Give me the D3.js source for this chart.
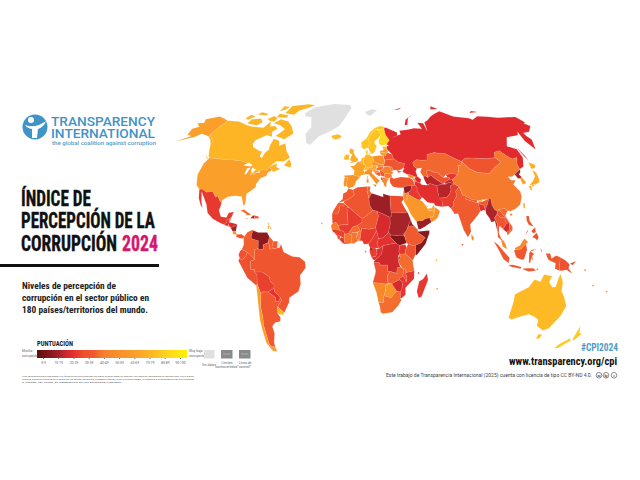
<!DOCTYPE html>
<html>
<head>
<meta charset="utf-8">
<script src="https://cdnjs.cloudflare.com/ajax/libs/d3/7.8.5/d3.min.js"></script>
<style>
body { margin: 0; background: #fff; }
text { font-family: Roboto, "Open Sans", sans-serif; }
text.narrow { font-family: "Liberation Sans Narrow", "Roboto Condensed", Roboto, sans-serif; }
</style>
</head>
<body>
<div id="chart"></div>
<script>
// CPI scores
var countryNames = ["Canada","United States","Mexico","Guatemala","Belize","Honduras","El Salvador","Nicaragua","Costa Rica","Panama","Cuba","Haiti","Dominican Rep","Jamaica","Trinidad",
  "Colombia","Venezuela","Guyana","Suriname","Ecuador","Peru","Brazil","Bolivia","Paraguay","Chile","Argentina","Uruguay",
  "Iceland","Ireland","UK","Norway","Sweden","Finland","Denmark","Portugal","Spain","France","Belgium","Netherlands","Germany","Switzerland","Austria","Italy","Poland","Czechia","Slovakia","Hungary","Slovenia","Croatia","Bosnia","Serbia","Albania","N Macedonia","Greece","Bulgaria","Romania","Moldova","Ukraine","Belarus","Estonia","Latvia","Lithuania","Russia",
  "Turkey","Georgia","Armenia","Azerbaijan","Syria","Lebanon","Israel","Jordan","Iraq","Saudi Arabia","Yemen","Oman","UAE","Qatar","Iran","Afghanistan","Pakistan","Turkmenistan","Uzbekistan","Kazakhstan","Kyrgyzstan","Tajikistan","Mongolia","China","Taiwan","India","Nepal","Bhutan","Bangladesh","Sri Lanka","Myanmar","Thailand","Laos","Vietnam","Cambodia","Malaysia","Indonesia","PNG","Philippines","Japan","South Korea","North Korea",
  "Morocco","Algeria","Tunisia","Libya","Egypt","Mauritania","Mali","Senegal","Guinea-Bissau","Guinea","Sierra Leone","Liberia","Ivory Coast","Burkina Faso","Ghana","Togo","Benin","Nigeria","Niger","Chad","Sudan","South Sudan","Eritrea","Ethiopia","Djibouti","Somalia","Kenya","Uganda","Rwanda","Burundi","Tanzania","DR Congo","Congo","Gabon","Eq Guinea","Cameroon","CAR","Angola","Namibia","Botswana","Zambia","Zimbabwe","Malawi","Mozambique","South Africa","Madagascar",
  "Australia","New Zealand"];
var countryScores = [75,65,26,25,35,22,30,14,58,33,41,16,36,44,41,
  39,10,39,38,32,31,34,28,24,63,37,76,
  77,77,71,81,80,88,90,57,56,67,69,78,75,81,67,54,53,56,49,41,60,47,33,35,34,40,49,43,46,43,35,33,76,59,63,22,
  34,53,47,22,12,22,64,49,26,59,13,55,68,59,23,17,27,17,32,40,25,19,33,43,68,38,34,72,23,50,16,34,33,40,21,50,37,31,33,71,64,15,
  37,34,39,13,30,30,27,45,21,28,35,25,42,41,42,32,45,26,34,21,15,8,13,38,31,9,32,25,57,17,41,20,23,27,13,26,24,32,49,57,39,21,34,25,41,26,
  77,83];

// outlines: name followed by flat lon,lat rings
var northAmerica = [
  ["Canada",
    [-141,69.6,-128,70,-115,68.5,-108,68,-96,68,-94,71.8,-90,69,-85,69.5,-81,68,-87,64,-94,61,-94.5,58.8,-92,57,-85,55.3,-82,55,-82,52.5,-79.5,51.3,-79,54.5,-77,56,-78,58.5,-78,62.4,-72,61.5,-69.5,58.8,-65,60.3,-61,56,-56,52.5,-60,50.2,-66,50.2,-70,47,-65,49,-64.5,47,-61,46,-66,44,-67,45.2,-70,46.5,-71,45,-75,45,-79,43.3,-83,42,-82.5,45.3,-88,48,-95,49,-110,49,-123,49,-125,50,-130,54.5,-133,58,-137,59.5,-141,60.3],
    [-62,66,-68,62.5,-78,64,-73,68,-80,70,-89,71,-85,73.5,-75,72.5,-68,70],
    [-105,69,-117,69.5,-117,72,-108,73,-102,71],
    [-56,82.5,-66,83,-86,81.5,-86,77,-74,76.5,-72,79,-62,81],
    [-125,72,-120,71.5,-117,74,-124,74.5],
    [-80,74.5,-92,74.5,-92,76.5,-80,76],
    [-90,72,-95,72,-100,73,-96,75,-90,74],
    [-90,79,-95,78,-96,81,-88,81],
    [-105,75,-117,75,-115,76.5,-106,76],
    [-59,48,-53,47,-53,49,-56,51.5],
    [-87,64,-81,63.5,-84,66],
    [-128,50.5,-123.5,48.5,-125,48.6]],
  ["United States",
    [-123,49,-110,49,-95,49,-88,48,-84,46.5,-82.5,45.3,-83,42,-79,43.3,-75,45,-71,45,-70,46.5,-67,45.2,-70,43.5,-70,41.7,-74,40.5,-76,37,-75.5,35.3,-81,31.5,-80,26,-81,25,-82.8,28,-84,30,-89,30.2,-94,29.5,-97.3,27.5,-97.2,25.9,-99.5,27.5,-101.5,29.7,-103,29,-106.5,31.8,-111,31.3,-117,32.5,-120.5,34.5,-124,40,-124.5,46],
    [-141,69.6,-156,71.2,-166,68.4,-162,66.4,-168,65.6,-161,64,-165,62.3,-162,59,-157,58.7,-165,54.6,-153,58.5,-150,60.8,-141,60,-136,58.5,-130,55,-133,58,-137,59.5,-141,60.3]],
  ["Mexico", [-117,32.5,-114.7,32.5,-111,31.3,-106.5,31.8,-103,29,-101.5,29.7,-99.5,27.5,-97.2,25.9,-97.8,22,-95.5,18.7,-91.5,18.5,-90.5,21,-87,21.5,-88,18.5,-89.2,17.8,-91,17.2,-90.5,16,-92.2,14.5,-96,15.7,-101,17.5,-105.5,20.5,-108,25,-112.5,29.5,-114.7,31.5,-112,26,-110,23,-112,24.5,-115,28]],
  ["Guatemala", [-92.2,14.5,-90.5,16,-91,17.2,-89.2,17.8,-89,15.8,-88.5,15.5,-90,13.8]],
  ["Belize", [-89.2,17.8,-88.2,18.4,-88.5,16.3,-89,15.8]],
  ["Honduras", [-89,15.8,-88,15.8,-83.2,15,-84.5,14,-87.5,13,-89,14.3]],
  ["El Salvador", [-90,13.8,-89,14.3,-87.7,13.5]],
  ["Nicaragua", [-87.5,13,-84.5,14,-83.2,15,-83.6,11,-85.7,11]],
  ["Costa Rica", [-85.7,11,-83.6,11,-82.7,9.5,-85.5,9.5]],
  ["Panama", [-83,9.5,-79.5,9.6,-77.3,8.6,-78,7.3,-80.5,7.5,-83,8.2]],
  ["Cuba", [-84.9,21.9,-80,23.1,-74.2,20.2,-77.7,19.9,-78,20.8,-82,22.3]],
  ["Haiti", [-74.5,18.4,-71.7,18.3,-71.7,19.9,-73,19.9]],
  ["Dominican Rep", [-71.7,18.3,-68.4,18.5,-69,19.5,-71.7,19.9]],
  ["Jamaica", [-78.3,18.2,-76.2,18,-77,18.5]],
  ["Trinidad", [-61.9,10.1,-61,10.1,-61,10.8,-61.7,10.7]],
  ["Greenland", [-62,78,-55,81,-48,82,-30,83.5,-8,83,-6,81,-12,76,-18,71,-26,68,-36,65,-42,60,-46,61,-50,66,-47,70,-52,75.5,-60,76]]
];
var southAmerica = [
  ["Colombia", [-77.3,8.6,-75.5,10.7,-72,12.2,-71.2,11.5,-72.5,9.5,-72.5,7.3,-67.5,6.2,-67.5,2,-70,1.2,-69.9,-4.2,-72,-2.3,-75,-0.1,-78.8,1.4,-77.5,4,-77.8,7.3]],
  ["Venezuela", [-71.3,11.7,-68,10.7,-62,10.7,-60,8.5,-60.7,5.2,-64,4,-64,1.5,-67,1.2,-67.5,2,-67.5,6.2,-72.5,7.3,-72.5,9.5]],
  ["Guyana", [-60,8.5,-57.1,6,-58,3,-57,1.8,-59.7,1.5,-59.9,4,-60.7,5.2]],
  ["Suriname", [-57.1,6,-54,5.9,-54.3,2.2,-57,1.8,-58,3]],
  ["French Guiana", [-54,5.9,-51.7,4.3,-52.7,2.3,-54.3,2.2]],
  ["Ecuador", [-78.8,1.4,-75,-0.1,-75.5,-1.5,-78.5,-4.5,-80.3,-3.4,-81,-1.5,-80,0.5]],
  ["Peru", [-81.3,-4.7,-80.3,-3.4,-78.5,-4.5,-75.5,-1.5,-75,-0.1,-72,-2.3,-69.9,-4.2,-72.9,-5,-73,-9.5,-70.5,-9.5,-70.5,-11,-69,-12.5,-69.3,-15.5,-69.5,-17.5,-70.4,-18.3,-76,-14,-79,-8.5]],
  ["Brazil", [-51.7,4.3,-50,0,-44,-2.5,-39,-3,-35.2,-5.5,-35,-9,-39,-13,-39,-18,-41,-22,-48,-25.5,-48.6,-28,-53.4,-33.7,-57.6,-30.2,-53.7,-26.7,-54.5,-25.5,-55.5,-24,-58,-22,-58.2,-20,-57.7,-18,-60.2,-16.3,-60.5,-13.7,-65.3,-11,-69.6,-11,-70.5,-11,-70.5,-9.5,-73,-9.5,-72.9,-5,-69.9,-4.2,-70,1.2,-67.5,2,-67,1.2,-64,1.5,-64,4,-60.7,5.2,-59.9,4,-59.7,1.5,-57,1.8,-54.3,2.2,-52.7,2.3]],
  ["Bolivia", [-69.6,-11,-65.3,-11,-60.5,-13.7,-60.2,-16.3,-57.7,-18,-58.2,-20,-62.6,-22,-66.3,-21.8,-67.9,-22.8,-68.8,-20,-69.5,-17.5,-69.3,-15.5,-69,-12.5,-70.5,-11]],
  ["Paraguay", [-62.6,-22,-58.2,-20,-58,-22,-55.5,-24,-54.5,-25.5,-56,-27.3,-58.6,-27.2,-57.7,-25.3]],
  ["Argentina", [-66.3,-21.8,-62.6,-22,-57.7,-25.3,-58.6,-27.2,-56,-27.3,-54.5,-25.5,-53.7,-26.7,-57.6,-30.2,-58.4,-34,-57,-36.5,-58,-38.5,-62,-39,-65,-41,-65,-45,-68,-50,-68.5,-52.4,-72,-52,-72.5,-50,-71.8,-45,-71.5,-40,-70.3,-36,-70,-30,-68.4,-24.5,-67.9,-22.8]],
  ["Chile", [-70.4,-18.3,-69.5,-17.5,-68.8,-20,-67.9,-22.8,-68.4,-24.5,-70,-30,-70.3,-36,-71.5,-40,-71.8,-45,-72.5,-50,-72,-52,-68.5,-52.4,-68.6,-55,-72,-54.5,-74.5,-50,-73.5,-42,-73,-37,-71.5,-30,-70.5,-23]],
  ["Uruguay", [-57.6,-30.2,-53.4,-33.7,-54.9,-35,-58.4,-34]]
];
var europe = [
  ["Iceland", [-24,65.5,-18,66.4,-14,65.5,-15,64.3,-19,63.4,-22.5,64]],
  ["Ireland", [-10,52,-6,52,-6,53.5,-5.6,54.7,-8,55.2,-10,54]],
  ["UK", [-5.5,50,1.5,51.2,1.7,52.8,0,53.5,-2,56,-2,57.7,-5,58.6,-6,56.5,-3.2,54.8,-4.5,53.3,-5,51.7,-3,51.4]],
  ["Norway", [5,59,7,58,10.8,59,12.5,61,12,63.5,14.5,66,18,68.5,21,69,25.5,69,29,69.5,31,70.2,26,71,20,70,14,67.5,10,64,5,62]],
  ["Sweden", [10.8,59,12.8,55.5,14.3,55.5,16.5,56.5,18.8,59.8,17.2,61,17.5,62.5,21,64,24,65.8,23.7,68,21,69,18,68.5,14.5,66,12,63.5,12.5,61]],
  ["Finland", [21,69,23.7,68,24,65.8,21.5,63,21,61,23,60,27.8,60.5,31.5,62.8,29,66,29,69.5,25.5,69]],
  ["Denmark", [8.2,57,10.5,57.5,10.5,55,8.5,54.9], [11,55.7,12.5,56,12.3,55,11,55]],
  ["Svalbard", [11,79,20,80.5,27,80,18,77,14,77]],
  ["Portugal", [-9.5,38.7,-9,37,-7.4,37.2,-7,39.5,-6.5,42,-8.8,42]],
  ["Spain", [-8.8,42,-9.2,43.2,-1.8,43.4,3.2,42.3,0,40,-0.5,38.3,-2,36.8,-5.5,36,-7.4,37.2,-7,39.5,-6.5,42]],
  ["France", [-1.8,43.4,-1.2,46,-4.7,48.4,-1.5,48.7,1.5,50.9,2.6,51,4.2,50,6,49.5,8.2,49,7.5,47.6,6,46.3,7.5,43.8,4,43.4,3.2,42.3], [8.6,41.5,9.5,41.5,9.4,43,8.7,42.5]],
  ["Belgium", [2.6,51,4.2,51.4,6,50.7,6,49.5,4.2,50]],
  ["Netherlands", [4.2,51.4,4.8,53,7,53.3,6,50.7]],
  ["Germany", [6,50.7,7,53.3,8.5,54.9,10.5,54.9,14.2,53.9,15,51,12.2,50.3,13.7,48.7,13,47.5,9.6,47.5,7.5,47.6,8.2,49,6,49.5]],
  ["Switzerland", [6,46.3,7.5,47.6,9.6,47.5,10.4,46.8,8.5,46]],
  ["Austria", [9.6,47.5,13,47.5,13.7,48.7,17,48.7,16.2,46.9,13.7,46.5,10.4,46.8]],
  ["Italy", [6.7,45,8.5,46,10.4,46.8,13.7,46.5,12.4,44.5,16,41.8,18.5,40,16.5,39,15.7,38,12.5,41.5,10,43.8,7.5,43.8], [12.5,38,15.6,38.2,15,36.7], [8.2,39,9.7,39.2,9.7,41,8.2,41]],
  ["Poland", [14.2,53.9,19.5,54.4,23,54.3,24,50.5,22.7,49.1,19,49.5,15,51]],
  ["Czechia", [12.2,50.3,15,51,19,49.5,17,48.7,13.7,48.7]],
  ["Slovakia", [17,48.7,19,49.5,22.7,49.1,22.2,48.3,18,47.8]],
  ["Hungary", [16.2,46.9,18,47.8,22.2,48.3,22,47,20.2,46.1,16.5,46]],
  ["Slovenia", [13.7,46.5,16.2,46.9,15.5,45.5,13.6,45.5]],
  ["Croatia", [13.6,45.5,15.5,45.5,16.5,46,19,45.5,16,45,19,43,16,43.5,14.5,45]],
  ["Bosnia", [16,45,19,45,19.5,43,17.5,43]],
  ["Serbia", [19,46,20.2,46.1,22.5,44.3,22.5,42.3,20,42.8,19.2,44]],
  ["Albania", [19.3,42.2,20.5,42,21,40.5,19.3,40.5]],
  ["N Macedonia", [20.6,42,23,42,23,41,21,41]],
  ["Greece", [19.5,40,21,41,26,41.5,24,40,23,38,23,36.6,21.5,37,21,39], [23.5,35.5,26.2,35.2,24.5,35.2]],
  ["Bulgaria", [22.5,44.3,28,43.8,28,42,23,41.3,22.5,42.3]],
  ["Romania", [22,47,22.8,48,26.5,48.2,28.2,45.6,29.5,45,28.5,43.8,22.5,44.3,20.2,46.1]],
  ["Moldova", [26.5,48.2,29,47.8,30,46,28.2,45.6]],
  ["Ukraine", [22.2,48.3,24,50.5,24,51.8,32,52.3,35,50.5,40,49.6,38.5,47,35,46,33,46,36.5,45,33.5,44.5,32.5,46,30,46,29,47.8,26.5,48.2]],
  ["Belarus", [24,51.8,23.5,54,27,55.8,31,55,31.5,53,32,52.3]],
  ["Estonia", [23.5,59.2,28,59.5,27.5,57.8,24.5,58]],
  ["Latvia", [21,57,24,57.2,24.5,58,27.5,57.8,28,56,26,55.7,21,56.3]],
  ["Lithuania", [21,56.3,26,55.7,27,55.8,25.5,54,23.5,54,21,55.2]],
  ["Russia",
    [27.8,60.5,31.5,62.8,29,66,29,69.5,31,70,41,67,40,65,35,64.5,44,66,44,68,54,68.5,60,69,68,68.5,67,72,73,71.5,72,67,75,72,80,73,87,75,104,77.7,113,74,128,72,130,71,140,72.5,160,70,170,69.5,180,68.7,180,65,177,64.5,179,62.5,170,60,163,60,162,58,163,56,157,51,155.5,56,159,61,155,59.3,143,59.3,135,54.8,141,52.5,140,48,135,43.5,131,42.5,130.7,42.3,131.2,45,135,48.4,130.5,48,127.5,50,125,53,120,52.5,117,49.7,110,49.5,104,50,98.5,50.5,92,50.8,87.5,49.2,83,51,77,54,71,54.5,68,55,61,54,59.5,51,55,51,50.5,51.5,47,50,47,48,49,46.5,47.5,45,48,41.8,46.5,41.8,43,43,40,43.5,37,45,39,47,38.5,47,40,49.6,35,50.5,32,52.3,31.5,53,31,55,27.5,57.8,28,59.5,30,60],
    [142,54,143,49,142.5,46,142,50],
    [52,71,56,74,68,76.8,60,75,55,71],
    [95,79,105,79,100,81],
    [137,75,148,75,142,76],
    [48,80,60,81,55,80]]
];
var asia = [
  ["Turkey", [26,40,26.5,41.8,28,42,29,41.2,35,42,41.5,41.5,43.7,40.5,44.8,37.2,42.3,37.2,36.5,36.7,36,36,32,36.1,28,36.7,26.3,38.5]],
  ["Georgia", [40,43.5,43,43,46.5,41.8,43.5,41.2,41.5,41.5]],
  ["Armenia", [43.5,41.2,45.5,41,46.5,39,44.8,39.7]],
  ["Azerbaijan", [46.5,41.8,48.5,41.8,50.3,40.3,49,38.5,46.5,39,45.5,41]],
  ["Syria", [36,36,36.5,36.7,42.3,37.2,41,34.4,38.8,33.4,36,32.7,35.8,34.7]],
  ["Israel", [34.3,31.3,35,33,35.8,33,35.5,29.5]],
  ["Lebanon", [35.1,33.1,35.9,33.4,36,34.6,35.9,34.6]],
  ["Jordan", [35,29.4,35.6,32.6,38.8,33.4,39,32,37,31.5,38,30]],
  ["Iraq", [38.8,33.4,41,34.4,42.3,37.2,44.8,37.2,46,35.8,45.5,34,48,30.2,47.9,29.9,46.5,29,44.7,29.2,39,32]],
  ["Saudi Arabia", [35,29.4,38,30,37,31.5,39,32,44.7,29.2,46.5,29,48,28.4,50.2,26,51,24.5,52,23,55,22.7,55.7,22,55,20,52,19,49,18.5,46.5,17.3,43.3,17.5,42.7,16.4,39,21,37,25,35,28]],
  ["Yemen", [42.7,16.4,43.3,17.5,46.5,17.3,49,18.5,52,19,53.1,16.6,48,14,45,12.8,43.5,12.7]],
  ["Oman", [52,19,55,20,55.7,22,56.3,24.9,58.7,23.6,59.8,22.4,57.7,18.9,55.2,17.4,53.1,16.6]],
  ["UAE", [51.5,24.2,52,23,55,22.7,55.7,22,56.3,24.9,56.2,26,54,24.2]],
  ["Qatar", [50.8,24.8,51.6,25,51.3,26.1,50.8,25.8]],
  ["Iran", [44.8,39.7,46.5,39,48.9,38.4,50,37.4,54,37,56.5,38,61,36.6,61.2,35.5,60.8,34,61,31.5,63,27,61.6,25,57,25.7,56.5,27,52,27.5,48.8,30.3,48,30.2,45.5,34,46,35.8,44.8,37.2]],
  ["Afghanistan", [61,36.6,65,37.4,68,37.3,71.5,38.2,74.9,37.2,71.5,36.3,71,34,69.3,31.9,66.4,29.9,60.8,29.8,61,31.5,60.8,34,61.2,35.5]],
  ["Pakistan", [61.6,25,63,27,60.8,29.8,66.4,29.9,69.3,31.9,71,34,71.5,36.3,74.9,37.2,77.7,35.5,74,33,74.5,31,71,27.7,70,25,68,23.8,66.5,25.3]],
  ["Turkmenistan", [52.5,41.8,54,42.3,56,41.3,58.5,42.7,60,41.5,62,40,66.5,37.4,65,37.4,61,36.6,56.5,38,54,37.3,53,39.5]],
  ["Uzbekistan", [56,45,58.5,45.5,61,44.3,64.5,43.7,66,42.5,68,41,71,41,73,40.7,71,39.5,68,38.3,66.5,37.4,62,40,60,41.5,58.5,42.7,56,41.3]],
  ["Kazakhstan", [47,50,50.5,51.5,55,51,59.5,51,61,54,68,55,71,54.5,77,54,83,51,87.5,49.2,85.5,47,83,47,82.5,45.4,80,42.2,75,43,70.5,42.5,68,41,66,42.5,64.5,43.7,61,44.3,58.5,45.5,56,45,56,41.3,54,42.3,52.5,41.8,51,44.5,53,46.8,49,46.5,47,48]],
  ["Kyrgyzstan", [70.5,42.5,75,43,80,42.2,74,39.5,71,39.5,73,40.7,71,41]],
  ["Tajikistan", [68,38.3,71,39.5,74,39.5,74.9,37.2,71.5,38.2,68,37.3]],
  ["Mongolia", [87.5,49.2,92,50.8,98.5,50.5,104,50,110,49.5,117,49.7,119.5,47,112,44.7,105,41.7,96,42.7,91,45]],
  ["China", [74,39.5,80,42.2,82.5,45.4,83,47,85.5,47,87.5,49.2,91,45,96,42.7,105,41.7,112,44.7,119.5,47,117,49.7,120,52.5,125,53,127.5,50,130.5,48,135,48.4,131.2,45,130.7,42.3,128,41.5,124.3,40,121,39,118,39.2,119,37.3,122.5,37,119.3,35,122,31,121.5,28.5,118.5,24.5,114,22.3,110,21.3,108,21.6,106.7,22.8,102,22.4,101,21.3,99,22.5,98,25,98.5,28.2,92,28,89,27.5,84,28.5,81,30.2,78.5,31,77.7,35.5,74.9,37.2], [109,19,110.5,19,111,20,109.5,20]],
  ["Taiwan", [120.2,23,121,22,122,25,121,25.2]],
  ["India", [68,23.8,70,25,71,27.7,74.5,31,74,33,77.7,35.5,78.5,31,81,30.2,80,28.8,88,26.4,89,26.8,92,27,97,28.3,95,25.5,93.5,24,92.5,22,92,25,88.5,26,88.5,21.7,86.5,20,82,16.5,80,15,80,11,77.5,8,75,12,73,19,72.5,21,70,20.8,69,22.5]],
  ["Nepal", [80,28.8,81,30.2,84,28.5,88,27.8,88,26.4]],
  ["Bhutan", [89,27.5,92,28,92,27,89,26.8]],
  ["Bangladesh", [88.5,26,92,25,92.5,22,91,22.5,89,21.8,88.5,23]],
  ["Sri Lanka", [80,9.7,81.8,7.5,80.8,6,80,7]],
  ["Myanmar", [92.5,22,93.5,24,95,25.5,97,28.3,98.5,28.2,98,25,99,22.5,101,21.3,100,20,97.7,18,99,15,98.5,10,97.7,16.5,95,15.8,94.3,18,92.5,20.5]],
  ["Thailand", [98.5,10,99,15,97.7,18,100,20,101,19,102.5,18,105,18,105.5,15,102.5,12,100.9,13.4,100,13.5,99.2,10,100.5,7,102,6,100.3,6.5,98.3,8]],
  ["Laos", [101,21.3,102,22.4,104,20,106.7,17,107.5,15,105.5,14,105,18,102.5,18,101,19,100,20]],
  ["Vietnam", [102,22.4,106.7,22.8,108,21.6,105.7,19,109.3,13,109,11.5,105,8.7,104.8,10.4,106.8,11.5,107.5,15,106.7,17,104,20]],
  ["Cambodia", [102.5,12,105.5,15,107.5,15,106.8,11.5,104.8,10.4]],
  ["Malaysia", [100.3,6.5,102,6,103.4,4,104.2,1.4,101.3,2.8], [109.6,2,111.5,2.8,113,3.2,116.7,7,119,5,117.5,4.2,115,2.5,114,1.5,110,1]],
  ["Indonesia",
    [109,1,110,1,114,1.5,115,2.5,117.5,4.2,118,1,116,-3.8,114.5,-4,111,-3,110,-1.5],
    [95.3,5.6,98,4,103.5,-1,106,-3,105.7,-5.8,102,-4,98.5,1],
    [105.3,-6.8,108.5,-6.6,114.5,-7.7,114.3,-8.6,108,-7.8],
    [119.5,-5.5,119.5,-0.5,121,1,125,1.5,120.5,0.3,123,-1,121.5,-2,122.5,-4.5,121,-3,120.5,-5.5],
    [116,-8.5,119,-8.3,123,-8.3,125,-9.5,120,-10,116,-9],
    [127.5,2,128.5,0,127.5,0.5],
    [131,-0.8,134,-0.8,135,-3.3,138,-1.7,141,-2.6,141,-9.1,138,-8.3,138,-5.5,133,-4,132,-2.7]],
  ["PNG", [141,-2.6,145,-4.3,147.8,-6,147.3,-7.8,150.7,-10.4,146,-8.6,143,-9.2,141,-9.1], [148,-5.6,152,-4.3,150,-6.3]],
  ["Philippines", [120.5,18.5,122.3,18.4,122,16,124,13,121,13.8,120,16], [122,7.5,125.5,9.7,126.5,7.5,125.3,5.8,124,7], [122,10.7,125,12.5,125,10,123,9.5], [117.3,8.5,119.5,11.3,119.5,10.5]],
  ["Japan", [131,34,135,35.6,139,38,140,41.3,141.7,40,141,37,140,35,136,34,133,34], [140,42,141.5,45.3,145.3,43.5,143,42], [130,33.5,132,33.5,131,31,130.2,31.5], [132.5,33.8,134.5,34.2,134,33.3,133,32.8]],
  ["South Korea", [126.3,34.5,126.7,37.7,128.4,38.5,129.5,36,129,35]],
  ["North Korea", [124.3,40,128,41.5,130.7,42.3,129.8,41,127.5,39.8,128.4,38.5,126.7,37.7,125,38]]
];
var africa = [
  ["Morocco", [-5.9,35.8,-2.2,35.1,-1.2,32.2,-5,30,-8.7,28.7,-13,27.7,-9.8,29.8,-9.5,33,-6.8,34], [-8.7,27.7,-8.7,26,-12,26,-12,23.4,-13,21.4,-17,21.4,-16,23.5,-13,27.7]],
  ["Algeria", [-2.2,35.1,1,36.5,8.6,37,8.3,34.5,9.5,30.2,9.8,26.5,12,23.5,6,19.5,4.2,19,3.2,19.5,-4.8,25,-8.7,27.7,-8.7,28.7,-5,30,-1.2,32.2]],
  ["Tunisia", [8.6,37,11,37,10.2,34.5,11.5,33.2,9.5,30.2,8.3,34.5]],
  ["Libya", [11.5,33.2,15,32.3,20,31,20,32.8,25,31.7,25,20,24,19.5,15,23,12,23.5,9.8,26.5,9.5,30.2]],
  ["Egypt", [25,31.7,31,31.5,34.3,31.3,34.9,29.5,33,28,35.5,23.8,36.9,22,25,22]],
  ["Mauritania", [-17,21.4,-13,21.4,-12,23.4,-12,26,-8.7,26,-8.7,27.2,-4.8,25,-6.5,25,-5.5,15.5,-9.3,15.5,-12.2,14.8,-14,16.6,-16.5,16.2]],
  ["Mali", [-12.2,14.8,-9.3,15.5,-5.5,15.5,-6.5,25,-4.8,25,3.2,19.5,4.2,19,4.2,16.8,1,15,-2,14.3,-5.4,10.3,-8,10.2,-8.5,11.5,-11.5,12.3]],
  ["Senegal", [-16.5,16.2,-14,16.6,-12.2,14.8,-11.5,12.3,-16.7,12.4,-17.5,14.7]],
  ["Guinea-Bissau", [-16.7,12.4,-13.7,12.6,-13.6,11.2,-15.5,11]],
  ["Guinea", [-13.7,12.6,-11.5,12.3,-8.5,11.5,-8,10.2,-8.2,7.6,-10.7,9,-13.2,9.2,-15,10.8]],
  ["Sierra Leone", [-13.2,9.2,-10.7,9,-11.3,6.9,-12.8,7.6]],
  ["Liberia", [-11.4,6.9,-10.3,8.4,-8.2,7.6,-7.5,4.4,-9,5]],
  ["Ivory Coast", [-8.2,7.6,-8,10.2,-5.4,10.3,-2.8,9.5,-3,5,-7.5,4.4]],
  ["Burkina Faso", [-5.4,10.3,-2,14.3,1,15,3,12,0,11,-2.8,11,-2.8,9.5]],
  ["Ghana", [-2.8,11,0,11,0.5,8,1.2,6,-2,4.7,-3,5,-2.8,9.5]],
  ["Togo", [0,11,0.9,10.9,1.7,6.2,1.2,6,0.5,8]],
  ["Benin", [0.9,10.9,2.5,12,3.6,11.7,2.7,6.4,1.7,6.2]],
  ["Nigeria", [2.7,6.4,3.6,11.7,4,13.5,9,12.9,13.6,13.7,14.2,12,11,7,8.5,4.6,5.5,4.4,4.4,6.3]],
  ["Niger", [1,15,4.2,16.8,4.2,19,6,19.5,12,23.5,15,23,16,20.5,13.6,13.7,9,12.9,4,13.5,3.6,11.7,2.5,12,3,12]],
  ["Chad", [15,23,24,19.5,24,15.7,22.5,11,18.9,8,15.5,7.5,15,10,14.2,12,13.6,13.7,16,20.5]],
  ["Sudan", [24,19.5,25,20,25,22,36.9,22,38.5,18,36.5,14.5,35.2,12,33,10,33.5,9.5,28,9.3,24,9.5,22.5,11,24,15.7]],
  ["South Sudan", [24,9.5,28,9.3,33.5,9.5,33,10,34,8,35,5,30,3.6,27.5,5,23.5,8.7]],
  ["Eritrea", [36.5,14.5,38.5,18,39.5,15.5,43,12.6,40,14.5]],
  ["Ethiopia", [35.2,12,36.5,14.5,40,14.5,43,12.6,42.8,11,48,8,45,5,42,4,39,3.6,35.9,4.6,35,5,34,8,33.5,9.5,33,10]],
  ["Djibouti", [42,11,43,12.6,43.4,11.5]],
  ["Somalia", [42.8,11,43.3,11.4,51,12,51,10.5,48,4.5,42,-1.7,41,-1.5,41,3.9,42,4,45,5,48,8]],
  ["Kenya", [35.9,4.6,39,3.6,41,3.9,41,-1.5,39.2,-4.7,34,-1,34,1,35,2.5]],
  ["Uganda", [30,-1.2,34,-1,34,1,35,2.5,34,4.2,30,3.6,29.6,0]],
  ["Tanzania", [30,-1.2,34,-1,39.2,-4.7,39.5,-7,40.5,-10.5,35,-11.5,34.5,-9.7,33,-9.5,32,-9,29.5,-6,29.3,-4.4,30,-4.4,30.5,-2.5]],
  ["DR Congo", [12.2,-6,13,-4.6,16,-2.5,17.7,-1,18.5,3.5,22,4.2,27.5,5,30,3.6,29.6,0,30,-1.2,29,-2.4,29.3,-4.4,29.5,-6,30.7,-8.3,28.5,-9,28.4,-12,29.8,-12.2,27,-11.7,24,-11,22,-11,21.8,-7.3,17,-7.5,16,-6]],
  ["Rwanda", [29,-2.4,30,-1.2,30.5,-2.5,29.2,-2.7]],
  ["Burundi", [29.2,-2.7,30.5,-2.5,30,-4.4,29.3,-4.4]],
  ["Congo", [11.2,-4,13,-4.6,16,-2.5,17.7,-1,18.5,3.5,16,2,14,1.5,14.5,-0.5,13.5,-2.5,11.8,-2.5]],
  ["Gabon", [9.4,0,9.8,2.3,13.3,2.2,14,1.5,14.5,-0.5,13.5,-2.5,11.8,-2.5,11.2,-4]],
  ["Eq Guinea", [9.4,1,9.8,2.3,11.3,2.2,11.3,1]],
  ["Cameroon", [8.5,4.6,11,7,14.2,12,15,10,15.5,7.5,14.5,4.5,16,2,13.3,2.2,9.8,2.3]],
  ["CAR", [14.5,4.5,15.5,7.5,18.9,8,22.5,11,24,9.5,23.5,8.7,27.5,5,22,4.2,18.5,3.5,16,2]],
  ["Angola", [12.2,-6,16,-6,17,-7.5,21.8,-7.3,22,-11,24,-11,22,-13,22,-16.5,23.4,-17.6,21,-18,13.4,-17.3,11.8,-17.3,13.5,-12,13.7,-10.5,13,-8.5]],
  ["Namibia", [11.8,-17.3,13.4,-17.3,21,-18,23.4,-17.6,25.2,-17.8,21,-18.3,21,-22,20,-24.7,20,-28.5,16.5,-28.6,14.5,-22.5]],
  ["Botswana", [20,-24.7,21,-22,21,-18.3,25.2,-17.8,29,-22,27,-23.6,25.5,-25.7,23,-25.3]],
  ["Zambia", [22,-13,24,-11,27,-11.7,29.8,-12.2,28.4,-12,28.5,-9,30.7,-8.3,32,-9,33,-9.5,32.7,-13.6,30.2,-14.8,30.4,-15.6,25.2,-17.8,23.4,-17.6,22,-16.5]],
  ["Zimbabwe", [25.2,-17.8,30.4,-15.6,33,-17,32.5,-21,31.5,-22.4,29,-22]],
  ["Malawi", [33,-9.5,34.5,-9.7,34.7,-12,35.7,-14.5,35.2,-17,34.3,-15,32.7,-13.6]],
  ["Mozambique", [40.5,-10.5,40.6,-15,35,-20,35.5,-24,32.8,-26,31.9,-25.8,31.5,-22.4,32.5,-21,33,-17,30.4,-15.6,30.2,-14.8,32.7,-13.6,34.3,-15,35.2,-17,35.7,-14.5,34.7,-12,35,-11.5]],
  ["South Africa", [16.5,-28.6,20,-28.5,20,-24.7,23,-25.3,25.5,-25.7,27,-23.6,29,-22,31.5,-22.4,31.9,-25.8,32.8,-27,31,-30,27,-33.8,20,-34.8,18.4,-34,17.5,-30.5]],
  ["Madagascar", [49.3,-12,50.5,-15.5,47,-25,45,-25.5,43.3,-22,44.3,-16.5,47,-15]]
];
var oceania = [
  ["Australia", [113.5,-22,114.2,-26,115,-34.3,118,-35,124,-33,129,-31.7,134,-32.7,138,-34,139.5,-37,146.5,-39,150,-37.5,153,-31,153.5,-26,149,-21.5,146,-19,145.3,-15,142.5,-10.8,141.5,-13,141,-17,139,-17.5,135.5,-15,136.8,-12,131,-11.3,129.5,-15,125,-14,122,-18,116,-20.8], [144.7,-41,148.3,-41,148,-43,146,-43.5]],
  ["New Zealand", [172.7,-34.4,176,-37.5,178.5,-37.7,176.5,-41.5,175,-41,174,-39], [172.5,-40.6,174.3,-41.7,171.2,-44.5,170.5,-46,167,-46.3,168,-44]]
];
var lakes = [
  [-92,46.7,-88,48.5,-85,47.5,-85,46.5],
  [-87.8,42,-86.5,42,-85,45.8,-87.5,45.5],
  [-84,46,-80,45,-82,43,-83.5,44],
  [-83,41.7,-79,42.8,-79.5,42.5],
  [-79.5,43.4,-76.2,44,-76.2,43.4]
];
// tiny island states: lon, lat, score
var islands = [[-24,16,62],[6.6,0.2,45],[43.5,-11.7,21],[57.5,-20.3,51],[55.5,-4.6,72],[73.5,4,38],[125.8,-8.8,44],[159,-8.5,42],[167,-15.5,50],[178,-17.7,55],[-59.6,13.2,68],[-61,14,55],[-61.3,15.4,60],[-61.2,13.2,60]];

var legendLabels = ["0-9","10-19","20-29","30-39","40-49","50-59","60-69","70-79","80-89","90-100"];
var colorStops = [0,10,15,22,28,31,38,43,50,65,75,88,100];
var colorRange = ["#5c0c0c","#8c1a1f","#a6232a","#e02a2e","#ea402f","#ee512f","#f05a2f","#f57a2e","#f78a2c","#fa9f29","#fdb425","#ffd81f","#fff200"];

var width = 640, height = 480;
var color = d3.scaleLinear().domain(colorStops).range(colorRange);
var noData = "#e0e0e0";
var scoreOf = new Map(d3.zip(countryNames, countryScores));

var svg = d3.select("#chart").append("svg")
    .attr("width", width)
    .attr("height", height)
    .style("display", "block");

// winkel tripel, not part of d3 core
function winkelRaw(lambda, phi) {
  var cosPhi1 = 2 / Math.PI;
  var a = Math.acos(Math.cos(phi) * Math.cos(lambda / 2));
  var sinc = a ? Math.sin(a) / a : 1;
  return [
    (lambda * cosPhi1 + 2 * Math.cos(phi) * Math.sin(lambda / 2) / sinc) / 2,
    (phi + Math.sin(phi) / sinc) / 2
  ];
}
var projection = d3.geoProjection(winkelRaw).scale(101.5).translate([356, 252]).precision(0.3);
var path = d3.geoPath(projection);

function ring(flat) {
  var pts = [];
  for (var i = 0; i < flat.length; i += 2) pts.push([flat[i], flat[i + 1]]);
  pts.push(pts[0]);
  var poly = {type: "Polygon", coordinates: [pts]};
  if (d3.geoArea(poly) > 2 * Math.PI) pts.reverse();
  return [pts];
}
function feature(row) {
  return {type: "Feature", properties: {name: row[0]},
    geometry: {type: "MultiPolygon", coordinates: row.slice(1).map(ring)}};
}
var features = [].concat(northAmerica, southAmerica, europe, asia, africa, oceania).map(feature);

svg.append("g").attr("class", "countries")
  .selectAll("path").data(features).enter().append("path")
    .attr("d", path)
    .attr("fill", function(d) {
      var s = scoreOf.get(d.properties.name);
      return s == null ? noData : color(s);
    })
    .attr("stroke", "#fff")
    .attr("stroke-opacity", 0.3)
    .attr("stroke-width", 0.3);

svg.append("g").selectAll("path")
  .data(lakes.map(function(l) { return {type: "Polygon", coordinates: [ring(l)[0]]}; }))
  .enter().append("path").attr("d", path).attr("fill", "#fff");

svg.append("g").selectAll("circle").data(islands).enter().append("circle")
  .attr("cx", function(d) { return projection(d)[0]; })
  .attr("cy", function(d) { return projection(d)[1]; })
  .attr("r", 0.8)
  .attr("fill", function(d) { return color(d[2]); });

// logo
var logo = svg.append("g");
logo.append("circle").attr("cx", 35).attr("cy", 127).attr("r", 12.5).attr("fill", "#3f93c6");
logo.append("circle").attr("cx", 31).attr("cy", 120).attr("r", 3).attr("fill", "#fff");
logo.append("path").attr("d", "M25 125 Q35 129 46 121 Q44 127 38 129 L37 138 L32 138 L32 129 Q27 128 25 125Z").attr("fill", "#fff");
function fitted(sel, x, y, size, weight, fill, len, txt) {
  return sel.append("text").attr("x", x).attr("y", y)
    .attr("font-size", size).attr("font-weight", weight).attr("fill", fill)
    .attr("textLength", len).attr("lengthAdjust", "spacingAndGlyphs").text(txt);
}
fitted(svg, 51, 126, 12.5, 500, "#3f93c6", 104, "TRANSPARENCY");
fitted(svg, 51, 138, 12.5, 500, "#3f93c6", 104, "INTERNATIONAL");
fitted(svg, 52, 145, 5.8, 500, "#4f9cc9", 104, "the global coalition against corruption");

// title
function titleLine(x, y, fill, len, txt) {
  return fitted(svg, x, y, 21.5, 700, fill, len, txt).attr("class", "narrow")
    .attr("stroke", fill).attr("stroke-width", 0.35);
}
titleLine(21, 206, "#111", 70, "ÍNDICE DE");
titleLine(21, 228, "#111", 134, "PERCEPCIÓN DE LA");
titleLine(21, 251, "#111", 96, "CORRUPCIÓN");
titleLine(122, 251, "#d6186c", 36, "2024");
svg.append("rect").attr("x", 0).attr("y", 264).attr("width", 159).attr("height", 3).attr("fill", "#111");

fitted(svg, 22, 289, 9.5, 700, "#222", 94, "Niveles de percepción de").attr("class", "narrow");
fitted(svg, 22, 301, 9.5, 700, "#222", 127, "corrupción en el sector público en").attr("class", "narrow");
fitted(svg, 22, 313, 9.5, 700, "#222", 126, "180 países/territorios del mundo.").attr("class", "narrow");

// legend
var defs = svg.append("defs");
var grad = defs.append("linearGradient").attr("id", "cpi");
colorStops.forEach(function(s, i) {
  grad.append("stop").attr("offset", s + "%").attr("stop-color", colorRange[i]);
});
fitted(svg, 37, 346, 7, 700, "#222", 36, "PUNTUACIÓN").attr("class", "narrow");
svg.append("rect").attr("x", 37).attr("y", 350).attr("width", 150).attr("height", 8).attr("fill", "url(#cpi)");

var legendX = d3.scalePoint().domain(legendLabels).range([43, 180]);
var legendAxis = d3.axisBottom(legendX).tickSize(1).tickPadding(3);
var gAxis = svg.append("g").attr("transform", "translate(0,358)").call(legendAxis);
gAxis.select(".domain").remove();
gAxis.selectAll("text").attr("font-size", 3.4).attr("fill", "#666").style("font-family", "Roboto");
gAxis.selectAll("line").attr("stroke", "#777");

function small(x, y, txt, anchor) {
  svg.append("text").attr("x", x).attr("y", y).attr("font-size", 3.4).attr("fill", "#666")
    .attr("text-anchor", anchor || "start").text(txt);
}
small(22, 352, "Mucha");
small(22, 357, "corrupción");
small(189, 352, "Muy baja");
small(189, 357, "corrupción");

var legendBoxes = [[204, noData], [221, "#8a8a8a"], [239, "#8a8a8a"]];
svg.selectAll("rect.box").data(legendBoxes).enter().append("rect").attr("class", "box")
  .attr("x", function(d) { return d[0]; }).attr("y", 350)
  .attr("width", function(d, i) { return i ? 11.5 : 10.5; }).attr("height", 8.5)
  .attr("fill", function(d) { return d[1]; });
svg.selectAll("line.dash").data(legendBoxes.slice(1)).enter().append("line").attr("class", "dash")
  .attr("x1", function(d) { return d[0] + 2; }).attr("x2", function(d) { return d[0] + 9.5; })
  .attr("y1", 354).attr("y2", 354).attr("stroke", "#ccc").attr("stroke-width", 0.5);
small(209, 366, "Sin datos", "middle");
small(227, 364, "Límites", "middle");
small(227, 368, "controvertidos*", "middle");
small(245, 364, "Línea de", "middle");
small(245, 368, "control*", "middle");

var footnote = [
  "*Las denominaciones empleadas y la forma en que se presentan los datos en este mapa no implican, por parte de Transparencia Internacional, juicio alguno",
  "sobre la condición jurídica de ninguno de los países, territorios, ciudades o zonas, ni de sus autoridades, ni respecto a la delimitación de sus fronteras",
  "o límites, tal como se establecen en los acuerdos vigentes."
];
footnote.forEach(function(t, i) {
  svg.append("text").attr("x", 22).attr("y", 377 + i * 2.8).attr("font-size", 2.4).attr("fill", "#555")
    .attr("textLength", i == 2 ? 100 : 172).attr("lengthAdjust", "spacingAndGlyphs").text(t);
});

// right footer
fitted(svg, 581, 351, 10.5, 700, "#4f9cc9", 37, "#CPI2024").attr("class", "narrow");
fitted(svg, 509, 365, 10.5, 700, "#111", 108, "www.transparency.org/cpi").attr("class", "narrow");
fitted(svg, 386, 377, 5, 400, "#444", 206, "Este trabajo de Transparencia Internacional (2025) cuenta con licencia de tipo CC BY-ND 4.0.");
var ccIcons = [[599, "cc"], [606, "by"], [614, "="]];
svg.selectAll("circle.cc").data(ccIcons).enter().append("circle").attr("class", "cc")
  .attr("cx", function(d) { return d[0]; }).attr("cy", 375.3).attr("r", 2.8)
  .attr("fill", "#fff").attr("stroke", "#444").attr("stroke-width", 0.6);
svg.selectAll("text.ccl").data(ccIcons).enter().append("text").attr("class", "ccl")
  .attr("x", function(d) { return d[0]; }).attr("y", 376.5)
  .attr("text-anchor", "middle").attr("font-size", 3).attr("font-weight", 700).attr("fill", "#444")
  .text(function(d) { return d[1]; });
</script>
</body>
</html>
